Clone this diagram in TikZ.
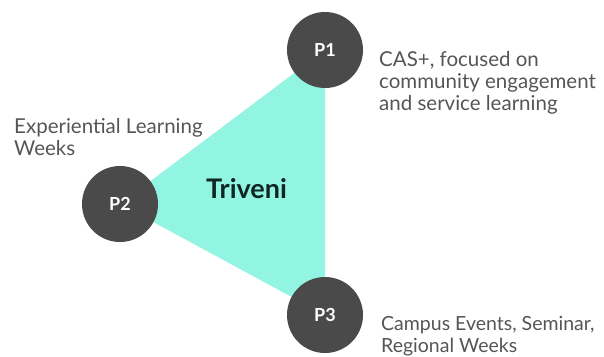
\documentclass[tikz,border=0pt]{standalone}
\usepackage{fontspec}
\setmainfont{Lato}
\definecolor{teal1}{RGB}{146,245,225}
\definecolor{dot}{RGB}{74,74,74}
\definecolor{lbl}{RGB}{85,85,85}
\definecolor{tri}{RGB}{16,38,34}
\begin{document}
\begin{tikzpicture}[x=1pt,y=-1pt,
  pnode/.style={circle,fill=dot,minimum size=76pt,inner sep=0pt,text=white,font=\fontsize{18}{20}\selectfont\bfseries},
  desc/.style={text=lbl,align=left,inner sep=0pt,font=\fontsize{20.5}{22}\selectfont}]
\useasboundingbox (0,0) rectangle (604,356);
\coordinate (c1) at (325,50);
\coordinate (c2) at (120,204);
\coordinate (c3) at (325,315);
\fill[teal1] (c1) -- (c2) -- (c3) -- cycle;
\node[pnode] (p1) at (c1) {P1};
\node[pnode] (p2) at (c2) {P2};
\node[pnode] (p3) at (c3) {P3};
\node[font=\fontsize{27}{29}\selectfont\bfseries,text=tri,anchor=base west,inner sep=0pt] (tv) at (206,198) {Triveni};
\node[desc,anchor=base west] (d1) at (379,110) {CAS+, focused on\\community engagement\\and service learning};
\node[desc,anchor=base west] (d2) at (14,155) {Experiential Learning\\Weeks};
\node[desc,anchor=base west,font=\fontsize{19.5}{22}\selectfont] (d3) at (381,352) {Campus Events, Seminar,\\Regional Weeks};
\end{tikzpicture}
\end{document}
